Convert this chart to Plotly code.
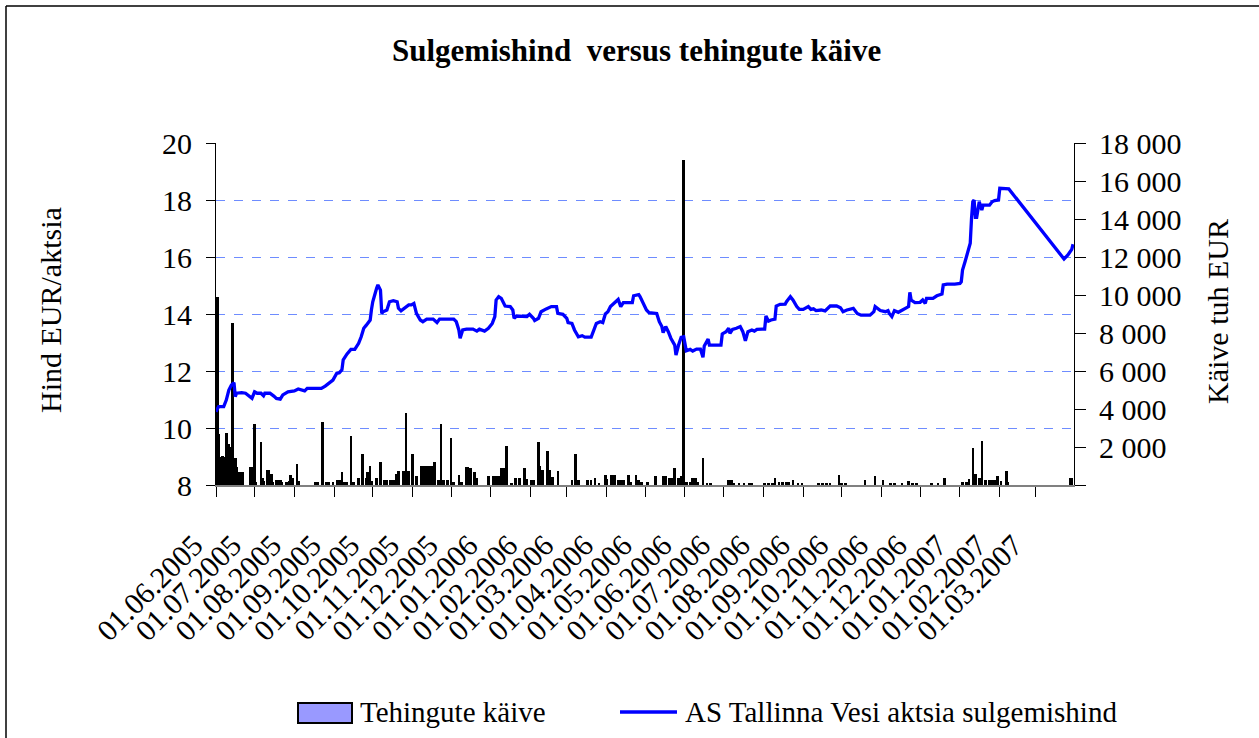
import plotly.graph_objects as go

FONT = "Liberation Serif, Times New Roman, serif"

# ---------------- data ----------------
price_dates = [
    "2005-06-01", "2005-06-03", "2005-06-07", "2005-06-09", "2005-06-11", "2005-06-13", "2005-06-15", "2005-06-16", "2005-06-17", "2005-06-21", "2005-06-24", "2005-06-27", "2005-06-29",
    "2005-07-01", "2005-07-03", "2005-07-06", "2005-07-08", "2005-07-09", "2005-07-13", "2005-07-16", "2005-07-18", "2005-07-21", "2005-07-23", "2005-07-27",
    "2005-08-01", "2005-08-04", "2005-08-07", "2005-08-09", "2005-08-11", "2005-08-16", "2005-08-22", "2005-08-25", "2005-08-29", "2005-08-31",
    "2005-09-03", "2005-09-05", "2005-09-07", "2005-09-08", "2005-09-11", "2005-09-14", "2005-09-17", "2005-09-20", "2005-09-22", "2005-09-24", "2005-09-26", "2005-09-29", "2005-09-30",
    "2005-10-01", "2005-10-04", "2005-10-05", "2005-10-07", "2005-10-08", "2005-10-09", "2005-10-12", "2005-10-14", "2005-10-17", "2005-10-20", "2005-10-21", "2005-10-23", "2005-10-26", "2005-10-29", "2005-10-31",
    "2005-11-02", "2005-11-04", "2005-11-07", "2005-11-09", "2005-11-12", "2005-11-17", "2005-11-20", "2005-11-22",
    "2005-12-03", "2005-12-05", "2005-12-07", "2005-12-08", "2005-12-10", "2005-12-13", "2005-12-18", "2005-12-21", "2005-12-23", "2005-12-27", "2005-12-30",
    "2006-01-02", "2006-01-04", "2006-01-05", "2006-01-07", "2006-01-09", "2006-01-12", "2006-01-16", "2006-01-18", "2006-01-19", "2006-01-21", "2006-01-29", "2006-01-31",
    "2006-02-03", "2006-02-04", "2006-02-07", "2006-02-09", "2006-02-13", "2006-02-17", "2006-02-21", "2006-02-22", "2006-02-26",
    "2006-03-01", "2006-03-02", "2006-03-05", "2006-03-07", "2006-03-10", "2006-03-13", "2006-03-15", "2006-03-20", "2006-03-23", "2006-03-24", "2006-03-27", "2006-03-29", "2006-03-31",
    "2006-04-02", "2006-04-04", "2006-04-06", "2006-04-10", "2006-04-12", "2006-04-14", "2006-04-19", "2006-04-21", "2006-04-22", "2006-04-26", "2006-04-27", "2006-04-29",
    "2006-05-02", "2006-05-04", "2006-05-10", "2006-05-12", "2006-05-14", "2006-05-15", "2006-05-17", "2006-05-19", "2006-05-21", "2006-05-24", "2006-05-25", "2006-05-27", "2006-05-28", "2006-05-29", "2006-05-31",
    "2006-06-01", "2006-06-02", "2006-06-05", "2006-06-07", "2006-06-10", "2006-06-13", "2006-06-15", "2006-06-16", "2006-06-19", "2006-06-20", "2006-06-29", "2006-06-30",
    "2006-07-03", "2006-07-05", "2006-07-06", "2006-07-08", "2006-07-11", "2006-07-14", "2006-07-16", "2006-07-18", "2006-07-20", "2006-07-23", "2006-07-25", "2006-07-27", "2006-07-31",
    "2006-08-02", "2006-08-03", "2006-08-05", "2006-08-07", "2006-08-10", "2006-08-11", "2006-08-14", "2006-08-18", "2006-08-19", "2006-08-22", "2006-08-24", "2006-08-27", "2006-08-29",
    "2006-09-01", "2006-09-05", "2006-09-07", "2006-09-09", "2006-09-11", "2006-09-15", "2006-09-18", "2006-09-22", "2006-09-27", "2006-09-30",
    "2006-10-02", "2006-10-05", "2006-10-10", "2006-10-13", "2006-10-16", "2006-10-23", "2006-10-26", "2006-10-27", "2006-10-31",
    "2006-11-04", "2006-11-06", "2006-11-07", "2006-11-09", "2006-11-11", "2006-11-14", "2006-11-18", "2006-11-22", "2006-11-23", "2006-11-24", "2006-11-27",
    "2006-12-01", "2006-12-03", "2006-12-05", "2006-12-06", "2006-12-11", "2006-12-14", "2006-12-18", "2006-12-19", "2006-12-22", "2006-12-28",
    "2007-01-01", "2007-01-02", "2007-01-03", "2007-01-05", "2007-01-09", "2007-01-10", "2007-01-11", "2007-01-12", "2007-01-13", "2007-01-14", "2007-01-16", "2007-01-18", "2007-01-19", "2007-01-24", "2007-01-26", "2007-01-28", "2007-01-30", "2007-01-31",
    "2007-02-01", "2007-02-03", "2007-02-08",
    "2007-03-23", "2007-03-26", "2007-03-29", "2007-03-30",
]
price_values = [
    10.57, 10.75, 10.75, 10.98, 11.33, 11.51, 11.59, 11.10, 11.22, 11.24, 11.22, 11.10, 11.04,
    11.27, 11.22, 11.22, 11.13, 11.22, 11.22, 11.12, 11.04, 11.01, 11.16, 11.27,
    11.30, 11.37, 11.33, 11.30, 11.39, 11.39, 11.39, 11.47, 11.59, 11.68,
    11.92, 11.94, 12.04, 12.39, 12.60, 12.76, 12.76, 12.97, 13.20, 13.50, 13.61, 13.79, 14.16,
    14.43, 14.90, 15.02, 14.84, 14.02, 14.08, 14.14, 14.43, 14.47, 14.43, 14.20, 14.11, 14.20, 14.32, 14.32,
    14.37, 14.02, 13.79, 13.73, 13.82, 13.82, 13.70, 13.82,
    13.82, 13.73, 13.44, 13.15, 13.44, 13.47, 13.47, 13.40, 13.47, 13.40, 13.50,
    13.67, 13.91, 14.49, 14.61, 14.55, 14.28, 14.26, 14.14, 13.85, 13.93, 13.91, 13.99,
    13.85, 13.77, 13.85, 14.08, 14.18, 14.26, 14.26, 14.02, 13.99,
    13.85, 13.70, 13.67, 13.44, 13.20, 13.24, 13.19, 13.19, 13.56, 13.67, 13.73, 13.70, 14.00,
    14.08, 14.26, 14.35, 14.51, 14.26, 14.40, 14.40, 14.40, 14.64, 14.68, 14.61, 14.43,
    14.14, 14.05, 14.02, 13.73, 13.56, 13.35, 13.56, 13.38, 13.15, 12.91, 12.56, 12.91, 13.03, 13.18, 13.20,
    12.88, 12.71, 12.76, 12.70, 12.77, 12.77, 12.48, 12.88, 13.12, 12.91, 12.91, 13.30,
    13.38, 13.50, 13.32, 13.46, 13.50, 13.56, 13.38, 13.06, 13.38, 13.44, 13.40, 13.46, 13.47,
    13.47, 13.93, 13.75, 13.79, 13.82, 14.28, 14.34, 14.35, 14.43, 14.61, 14.49, 14.26, 14.16,
    14.16, 14.26, 14.16, 14.18, 14.12, 14.14, 14.11, 14.28, 14.28, 14.22,
    14.08, 14.14, 14.20, 14.02, 13.96, 13.96, 14.08, 14.26, 14.12,
    14.08, 14.12, 14.02, 13.91, 14.12, 14.06, 14.16, 14.26, 14.76, 14.49, 14.40,
    14.41, 14.49, 14.37, 14.55, 14.55, 14.64, 14.70, 15.02, 15.05, 15.05,
    15.07, 15.13, 15.54, 15.84, 16.48, 17.36, 17.94, 18.00, 17.39, 17.39, 17.94, 17.65, 17.82, 17.82, 17.94, 17.98, 18.00, 18.00,
    18.41, 18.41, 18.39,
    15.93, 16.07, 16.27, 16.45,
]

turnover_dates = [
    "2005-06-02", "2005-06-03", "2005-06-05", "2005-06-06", "2005-06-07", "2005-06-09", "2005-06-10", "2005-06-11", "2005-06-12", "2005-06-13", "2005-06-14", "2005-06-15", "2005-06-16", "2005-06-17", "2005-06-19", "2005-06-20", "2005-06-21", "2005-06-22", "2005-06-28", "2005-06-29",
    "2005-07-01", "2005-07-02", "2005-07-06", "2005-07-07", "2005-07-08", "2005-07-11", "2005-07-12", "2005-07-14", "2005-07-15", "2005-07-18", "2005-07-19", "2005-07-21", "2005-07-22", "2005-07-26", "2005-07-28", "2005-07-29", "2005-07-31",
    "2005-08-03", "2005-08-04", "2005-08-17", "2005-08-19", "2005-08-23", "2005-08-26", "2005-08-28", "2005-08-31",
    "2005-09-03", "2005-09-05", "2005-09-07", "2005-09-09", "2005-09-11", "2005-09-14", "2005-09-16", "2005-09-20", "2005-09-23", "2005-09-26", "2005-09-27", "2005-09-29", "2005-09-30",
    "2005-10-04", "2005-10-07", "2005-10-10", "2005-10-12", "2005-10-15", "2005-10-17", "2005-10-19", "2005-10-21", "2005-10-25", "2005-10-26", "2005-10-27", "2005-10-29",
    "2005-11-01", "2005-11-04", "2005-11-08", "2005-11-10", "2005-11-12", "2005-11-14", "2005-11-16", "2005-11-18", "2005-11-21", "2005-11-23", "2005-11-25", "2005-11-28",
    "2005-12-01", "2005-12-03", "2005-12-07", "2005-12-09", "2005-12-13", "2005-12-14", "2005-12-16", "2005-12-19", "2005-12-21", "2005-12-30",
    "2006-01-03", "2006-01-05", "2006-01-07", "2006-01-09", "2006-01-11", "2006-01-13", "2006-01-17", "2006-01-20", "2006-01-23", "2006-01-27", "2006-01-29",
    "2006-02-01", "2006-02-03", "2006-02-07", "2006-02-08", "2006-02-10", "2006-02-14", "2006-02-16", "2006-02-18", "2006-02-22",
    "2006-03-05", "2006-03-08", "2006-03-10", "2006-03-17", "2006-03-20", "2006-03-23", "2006-03-26", "2006-03-31",
    "2006-04-01", "2006-04-05", "2006-04-06", "2006-04-07", "2006-04-10", "2006-04-12", "2006-04-14", "2006-04-18", "2006-04-20", "2006-04-24", "2006-04-26", "2006-04-28",
    "2006-05-03", "2006-05-09", "2006-05-15", "2006-05-16", "2006-05-17", "2006-05-20", "2006-05-22", "2006-05-24", "2006-05-27", "2006-05-29", "2006-05-31",
    "2006-06-02", "2006-06-05", "2006-06-07", "2006-06-09", "2006-06-11", "2006-06-15", "2006-06-18", "2006-06-21",
    "2006-07-05", "2006-07-07", "2006-07-09", "2006-07-13", "2006-07-17", "2006-07-21", "2006-07-23",
    "2006-08-02", "2006-08-05", "2006-08-08", "2006-08-10", "2006-08-13", "2006-08-16", "2006-08-19", "2006-08-21", "2006-08-24", "2006-08-28", "2006-08-31",
    "2006-09-13", "2006-09-16", "2006-09-19", "2006-09-22", "2006-09-29",
    "2006-10-01", "2006-10-04", "2006-10-19", "2006-10-27",
    "2006-11-02", "2006-11-08", "2006-11-11", "2006-11-17", "2006-11-22", "2006-11-25", "2006-11-28",
    "2006-12-10", "2006-12-15", "2006-12-20",
    "2007-01-03", "2007-01-06", "2007-01-08", "2007-01-11", "2007-01-13", "2007-01-16", "2007-01-18", "2007-01-21", "2007-01-24", "2007-01-26", "2007-01-28", "2007-01-30",
    "2007-02-02", "2007-02-06", "2007-02-07",
    "2007-03-28", "2007-03-29",
]
turnover_values = [
    9900, 2700, 1500, 1550, 1500, 2750, 1800, 2150, 2000, 1650, 8550, 1400, 1400, 950, 700, 700, 700, 700, 950, 950,
    3200, 150, 2250, 350, 200, 800, 800, 600, 150, 250, 250, 250, 150, 150, 200, 550, 350,
    1100, 200, 150, 150, 3300, 150, 150, 150,
    250, 250, 700, 150, 150, 2600, 150, 350, 1650, 350, 700, 1000, 200,
    350, 1200, 250, 250, 250, 250, 600, 750, 750, 750, 3800, 750,
    1650, 450, 1000, 1000, 1000, 1000, 1000, 1200, 250, 3200, 250, 250,
    2450, 150, 550, 150, 950, 950, 900, 700, 350, 450,
    450, 450, 450, 900, 900, 2050, 100, 350, 350, 900, 300,
    250, 250, 2250, 1000, 800, 1800, 800, 400, 750,
    250, 1650, 250, 250, 250, 350, 100, 550,
    300, 550, 550, 550, 250, 250, 250, 550, 150, 550, 250, 150,
    150, 475, 475, 475, 475, 350, 350, 900, 350, 475, 17100,
    150, 150, 350, 350, 150, 1400, 100, 100,
    250, 250, 100, 100, 100, 100, 100,
    100, 100, 100, 350, 175, 175, 175, 175, 250, 100, 100,
    100, 100, 100, 100, 550,
    100, 100, 250, 450,
    250, 100, 100, 100, 225, 100, 100,
    100, 100, 350,
    175, 175, 300, 1930, 600, 350, 2330, 250, 250, 250, 250, 475,
    225, 750, 175,
    350, 350,
]

month_ticks = [
    "2005-06-01", "2005-07-01", "2005-08-01", "2005-09-01", "2005-10-01", "2005-11-01", "2005-12-01",
    "2006-01-01", "2006-02-01", "2006-03-01", "2006-04-01", "2006-05-01", "2006-06-01", "2006-07-01",
    "2006-08-01", "2006-09-01", "2006-10-01", "2006-11-01", "2006-12-01", "2007-01-01", "2007-02-01", "2007-03-01",
]
month_labels = [
    "01.06.2005", "01.07.2005", "01.08.2005", "01.09.2005", "01.10.2005", "01.11.2005", "01.12.2005",
    "01.01.2006", "01.02.2006", "01.03.2006", "01.04.2006", "01.05.2006", "01.06.2006", "01.07.2006",
    "01.08.2006", "01.09.2006", "01.10.2006", "01.11.2006", "01.12.2006", "01.01.2007", "01.02.2007", "01.03.2007",
]
price_ticks = [8, 10, 12, 14, 16, 18, 20]
turnover_ticks = [0, 2000, 4000, 6000, 8000, 10000, 12000, 14000, 16000, 18000]
turnover_tick_labels = ["", "2 000", "4 000", "6 000", "8 000", "10 000", "12 000", "14 000", "16 000", "18 000"]

assert len(price_dates) == len(price_values)
assert len(turnover_dates) == len(turnover_values)

# ---------------- layout geometry (pixels) ----------------
W, H = 1259, 738
L, R, T, B = 216, 1074, 143, 485  # plot area edges


def px(x):
    return (x - L) / (R - L)


def py(y):
    return (B - y) / (B - T)


fig = go.Figure()
fig.add_trace(go.Bar(
    x=turnover_dates, y=turnover_values, name="Tehingute käive",
    width=86400000 * 2.0,
    marker=dict(color="black", line=dict(width=0)),
    yaxis="y", showlegend=False,
))
fig.add_trace(go.Scatter(
    x=price_dates, y=price_values, name="AS Tallinna Vesi aktsia sulgemishind",
    mode="lines", line=dict(color="#0000FF", width=3.3),
    yaxis="y2", showlegend=False,
))

tickfont = dict(family=FONT, size=30, color="black")

fig.update_layout(
    width=W, height=H,
    margin=dict(l=L, r=W - R, t=T, b=H - B, autoexpand=False),
    paper_bgcolor="white", plot_bgcolor="white",
    font=dict(family=FONT, color="black"),
    bargap=0,
    showlegend=False,
    xaxis=dict(
        type="date", range=["2005-06-01", "2007-03-30 18:00"],
        tickmode="array", tickvals=month_ticks, ticktext=month_labels,
        tickangle=-45, ticks="outside", ticklen=10, tickwidth=1, tickcolor="black",
        showline=True, linecolor="#808080", linewidth=1.5, mirror=False,
        showgrid=False, zeroline=False, tickfont=tickfont,
        ticklabelstandoff=19, ticklabelshift=-22,
    ),
    yaxis=dict(
        side="right", range=[0, 18000],
        tickmode="array", tickvals=turnover_ticks, ticktext=turnover_tick_labels,
        ticks="outside", ticklen=11, tickwidth=1, tickcolor="black",
        showline=True, linecolor="black", linewidth=1.2,
        showgrid=False, zeroline=False, tickfont=tickfont,
        ticklabelstandoff=7,
    ),
    yaxis2=dict(
        overlaying="y", side="left", range=[8, 20],
        tickmode="array", tickvals=price_ticks,
        ticks="outside", ticklen=9, tickwidth=1, tickcolor="black",
        showline=True, linecolor="black", linewidth=1.2,
        showgrid=True, gridcolor="#6E8CFF", griddash="dash", gridwidth=1.3,
        zeroline=False, tickfont=tickfont,
        ticklabelstandoff=8,
    ),
)

annotations = [
    dict(text="<b>Sulgemishind\u00a0 versus tehingute käive</b>", x=px(636), y=py(50),
         xref="paper", yref="paper", showarrow=False, xanchor="center", yanchor="middle",
         font=dict(family=FONT, size=31, color="black")),
    dict(text="Hind EUR/aktsia", x=px(50), y=py(310), textangle=-90,
         xref="paper", yref="paper", showarrow=False, xanchor="center", yanchor="middle",
         font=dict(family=FONT, size=30, color="black")),
    dict(text="Käive tuh EUR", x=px(1217), y=py(312), textangle=-90,
         xref="paper", yref="paper", showarrow=False, xanchor="center", yanchor="middle",
         font=dict(family=FONT, size=30, color="black")),
    dict(text="Tehingute käive", x=px(358), y=py(712),
         xref="paper", yref="paper", showarrow=False, xanchor="left", yanchor="middle",
         font=dict(family=FONT, size=29, color="black")),
    dict(text="AS Tallinna Vesi aktsia sulgemishind", x=px(683), y=py(712),
         xref="paper", yref="paper", showarrow=False, xanchor="left", yanchor="middle",
         font=dict(family=FONT, size=29, color="black")),
]

shapes = [
    # chart frame (left and top edges visible)
    dict(type="line", xref="paper", yref="paper", x0=px(6), x1=px(6), y0=py(6), y1=py(H + 5),
         line=dict(color="black", width=1.5)),
    dict(type="line", xref="paper", yref="paper", x0=px(6), x1=px(W + 5), y0=py(6), y1=py(6),
         line=dict(color="black", width=1.5)),
    # legend swatches
    dict(type="rect", xref="paper", yref="paper", x0=px(298), x1=px(352), y0=py(723), y1=py(703),
         fillcolor="#9999FF", line=dict(color="black", width=2)),
    dict(type="line", xref="paper", yref="paper", x0=px(620), x1=px(677), y0=py(712), y1=py(712),
         line=dict(color="#0000FF", width=3.3)),
]

fig.update_layout(annotations=annotations, shapes=shapes)

fig.write_html(
    "out.html",
    config={"displayModeBar": False},
    post_script="document.body.style.margin='0px';",
)
